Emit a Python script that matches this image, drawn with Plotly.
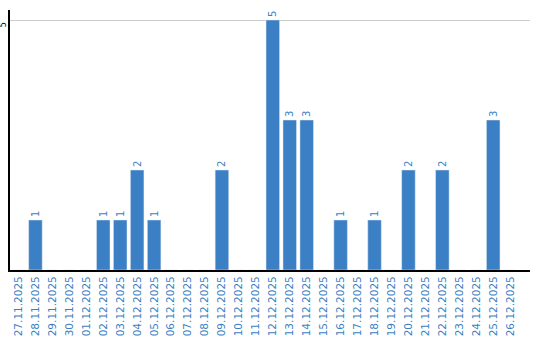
import plotly.graph_objects as go

dates = ["27.11.2025","28.11.2025","29.11.2025","30.11.2025","01.12.2025","02.12.2025",
         "03.12.2025","04.12.2025","05.12.2025","06.12.2025","07.12.2025","08.12.2025",
         "09.12.2025","10.12.2025","11.12.2025","12.12.2025","13.12.2025","14.12.2025",
         "15.12.2025","16.12.2025","17.12.2025","18.12.2025","19.12.2025","20.12.2025",
         "21.12.2025","22.12.2025","23.12.2025","24.12.2025","25.12.2025","26.12.2025"]
values = [0,1,0,0,0,1,1,2,1,0,0,0,2,0,0,5,3,3,0,1,0,1,0,2,0,2,0,0,3,0]

labels = [str(v) if v else "" for v in values]
blue = "#3b7fc4"

fig = go.Figure(go.Bar(
    x=dates, y=values, marker_color=blue, text=labels,
    textposition="outside", textangle=-90, cliponaxis=False,
    textfont=dict(family="DejaVu Sans", size=10, color=blue),
))
fig.update_layout(
    width=540, height=340, margin=dict(l=10, r=10, t=10, b=70),
    plot_bgcolor="white", paper_bgcolor="white", bargap=0.2,
    showlegend=False, font=dict(family="DejaVu Sans"),
)
fig.update_xaxes(type="category", range=[-0.5, 30.17], showline=True, linecolor="black", linewidth=2,
                 tickangle=-90, tickfont=dict(size=10.5, color=blue), ticks="",
                 automargin=False, showgrid=False)
fig.update_yaxes(range=[0, 5.2], tickvals=[5], ticktext=["5"], showline=True, linecolor="black", linewidth=2,
                 gridcolor="#cccccc", tickangle=-90, tickfont=dict(size=8, color="black"),
                 automargin=False, zeroline=False, ticks="", ticklabelstandoff=-1,
                 ticklabelshift=6)
fig.write_html("out.html")
